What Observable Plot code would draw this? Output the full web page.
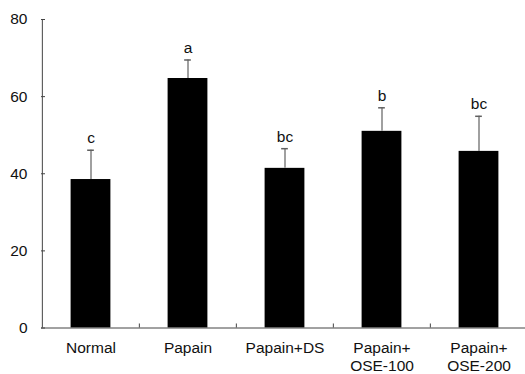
<!DOCTYPE html>
<html><head><meta charset="utf-8">
<script src="https://cdn.jsdelivr.net/npm/d3@7"></script>
<script src="https://cdn.jsdelivr.net/npm/@observablehq/plot@0.6"></script>
<style>body{margin:0;background:#fff}</style>
</head><body><div id="chart"></div>
<script>
const categories = ["Normal", "Papain", "Papain+DS", "Papain+\nOSE-100", "Papain+\nOSE-200"];
const means = [38.5, 64.7, 41.4, 51.0, 45.8];
const sds = [7.6, 4.8, 5.1, 6.1, 9.1];
const letters = ["c", "a", "bc", "b", "bc"];
const yTicks = [0, 20, 40, 60, 80];

const data = categories.map((c, i) => ({c, m: means[i], top: means[i] + sds[i], l: letters[i]}));
const x0 = 41, x1 = 527.5;
const step = (x1 - x0) / categories.length;
const font = "Liberation Sans, Arial, sans-serif";

const plot = Plot.plot({
  width: 525, height: 374,
  marginLeft: 41, marginRight: 0, marginTop: 19, marginBottom: 46.5,
  style: {fontFamily: font, fontSize: "15px", color: "#000", background: "#fff"},
  x: {type: "band", domain: categories, range: [x0, x1], padding: 0, axis: null, label: null},
  y: {domain: [0, 80], axis: null, label: null},
  marks: [
    Plot.barY(data, {x: "c", y: "m", fill: "#000", insetLeft: 28.6, insetRight: 28.6}),
    Plot.ruleX(data, {x: "c", y1: "m", y2: "top", stroke: "#808080", strokeWidth: 1.5}),
    Plot.tickY(data, {x: "c", y: "top", stroke: "#606060", strokeWidth: 1.5, insetLeft: (step - 7) / 2, insetRight: (step - 7) / 2}),
    Plot.text(data, {x: "c", y: "top", text: "l", dy: -7, lineAnchor: "bottom", fontSize: 15.5, fill: "#111"}),
    Plot.ruleY([0], {stroke: "#444", strokeWidth: 1}),
    Plot.ruleX([categories[0]], {x: d => d, dx: -step / 2, y1: 0, y2: 80, stroke: "#444", strokeWidth: 1}),
    Plot.ruleX(categories.slice(1), {x: d => d, dx: -step / 2, y1: 0, y2: 4 / 3.856, stroke: "#444", strokeWidth: 1}),
    Plot.axisY({ticks: yTicks, tickSize: -4, tickPadding: 18, stroke: "#444", fill: "#111", fontSize: 15.5, label: null}),
    Plot.axisX({tickSize: 0, tickPadding: 11.5, lineHeight: 1.2, fill: "#111", fontSize: 15.5, label: null})
  ]
});
document.getElementById("chart").appendChild(plot);
</script>
</body></html>
